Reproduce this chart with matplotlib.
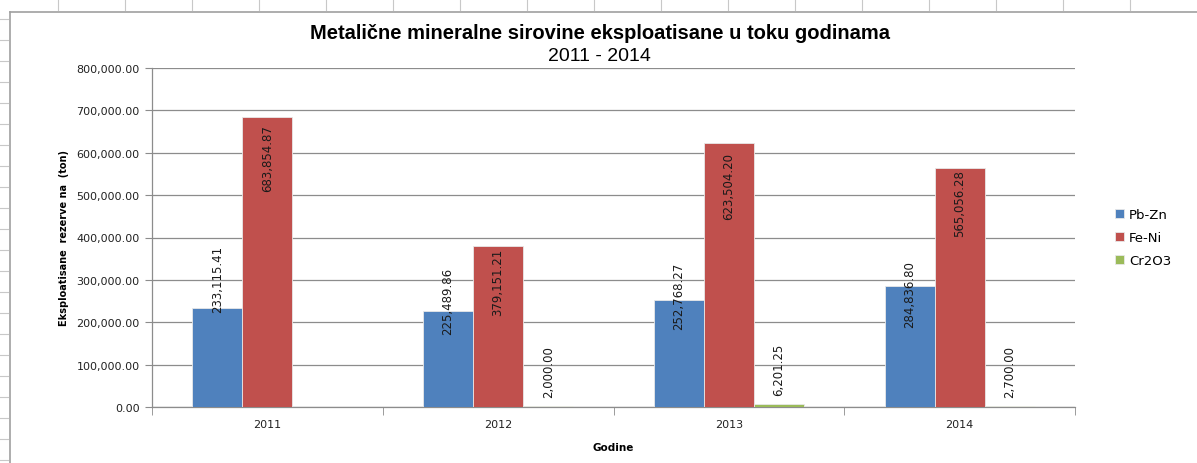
import matplotlib.pyplot as plt
import numpy as np

years = ['2011', '2012', '2013', '2014']
series_names = ['Pb-Zn', 'Fe-Ni', 'Cr2O3']
pb_zn = [233115.41, 225489.86, 252768.27, 284836.80]
fe_ni = [683854.87, 379151.21, 623504.20, 565056.28]
cr2o3 = [0, 2000.00, 6201.25, 2700.00]
colors = ['#4F81BD', '#C0504D', '#9BBB59']

# vertical shift (pixels) of each rotated label centre from the bar top
label_shift = [
    [30, 11, 5, -7],
    [-40, -35, -43, -35],
    [None, 35, 35, 35],
]

fig = plt.figure(figsize=(11.97, 4.64), dpi=100)
ax = fig.add_axes([152 / 1197, 56 / 464, 923 / 1197, 339 / 464])

x = np.arange(len(years))
w = 0.217
values = [pb_zn, fe_ni, cr2o3]
for i, (vals, col) in enumerate(zip(values, colors)):
    pos = x + (i - 1) * w
    ax.bar(pos, vals, w, color=col, edgecolor='#e8e8e8', linewidth=0.6,
           label=series_names[i], zorder=3)
    for j, v in enumerate(vals):
        if label_shift[i][j] is None:
            continue
        ax.annotate(f'{v:,.2f}', (pos[j], v), xytext=(0, label_shift[i][j] * 0.72),
                    textcoords='offset points', rotation=90, ha='center',
                    va='center', fontsize=8.5, color='#1a1a1a', zorder=4)

ax.set_xlim(-0.5, 3.5)
ax.set_ylim(0, 800000)
ax.set_yticks(np.arange(0, 800001, 100000))
ax.set_yticklabels([f'{t:,.2f}' for t in np.arange(0, 800001, 100000)],
                   fontsize=8, color='#222222')
ax.yaxis.grid(True, color='#8c8c8c', linewidth=0.9, zorder=0)
ax.set_xticks(x)
ax.set_xticklabels(years, fontsize=8, color='#222222')
ax.tick_params(axis='x', length=0, pad=9)
ax.set_xticks(np.arange(-0.5, 4, 1), minor=True)
ax.tick_params(axis='x', which='minor', length=6, color='#8c8c8c', direction='out')
ax.tick_params(axis='y', length=5, color='#8c8c8c', pad=4)
for s in ['top', 'right']:
    ax.spines[s].set_visible(False)
for s in ['left', 'bottom']:
    ax.spines[s].set_color('#8c8c8c')
    ax.spines[s].set_linewidth(0.9)

ax.set_xlabel('Godine', fontsize=7.5, fontweight='bold', labelpad=9)
ax.set_ylabel('Eksploatisane  rezerve na  (ton)', fontsize=7, fontweight='bold',
              labelpad=5)

fig.text(0.501, 0.927, 'Metalične mineralne sirovine eksploatisane u toku godinama',
         ha='center', va='center', fontsize=14.5, fontweight='bold',
         family='Liberation Sans')
fig.text(0.501, 0.878, '2011 - 2014', ha='center', va='center', fontsize=14,
         family='Liberation Sans')

leg = ax.legend(loc='center left', bbox_to_anchor=(1.03, 0.5), frameon=False,
                fontsize=9.5, handlelength=0.7, handleheight=0.7,
                handletextpad=0.4, labelspacing=0.75)

# chart frame and sheet grid marks
fig.add_artist(plt.Line2D([10 / 1197, 10 / 1197], [0, 1 - 13 / 464],
                          color='#a0a0a0', lw=1.2, transform=fig.transFigure))
fig.add_artist(plt.Line2D([10 / 1197, 1], [1 - 13 / 464, 1 - 13 / 464],
                          color='#a0a0a0', lw=1.2, transform=fig.transFigure))
for yy in range(20, 464, 21):
    fig.add_artist(plt.Line2D([0, 8 / 1197], [1 - yy / 464, 1 - yy / 464],
                              color='#c8c8c8', lw=0.8, transform=fig.transFigure))
for xx in range(58, 1197, 67):
    fig.add_artist(plt.Line2D([xx / 1197, xx / 1197], [1, 1 - 11 / 464],
                              color='#c8c8c8', lw=0.8, transform=fig.transFigure))

fig.savefig('out.png', dpi=100)
